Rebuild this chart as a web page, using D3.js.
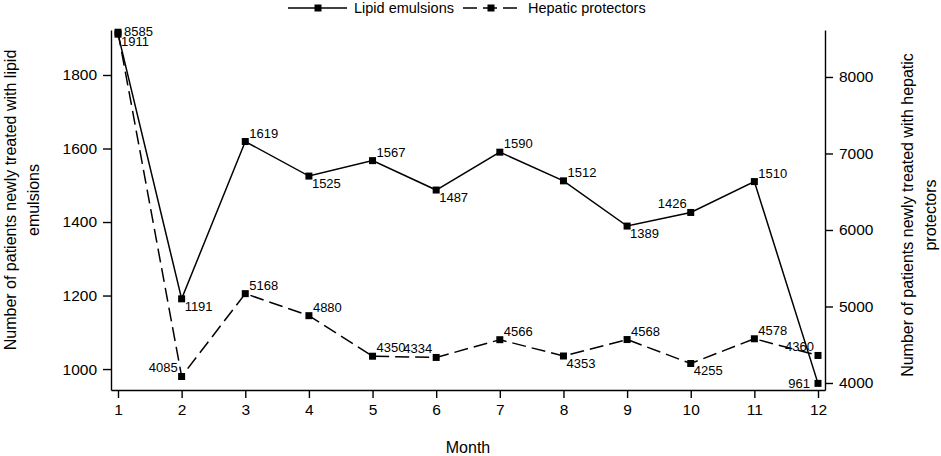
<!DOCTYPE html>
<html>
<head>
<meta charset="utf-8">
<script src="https://cdn.jsdelivr.net/npm/d3@7"></script>
<style>
  body { margin: 0; background: #fff; }
  svg text { font-family: "Liberation Sans", Arial, sans-serif; fill: #000; }
</style>
</head>
<body>
<div id="chart"></div>
<script>
// data
var months   = [1, 2, 3, 4, 5, 6, 7, 8, 9, 10, 11, 12];
var lipid    = [1911, 1191, 1619, 1525, 1567, 1487, 1590, 1512, 1389, 1426, 1510, 961];
var hepatic  = [8585, 4085, 5168, 4880, 4350, 4334, 4566, 4353, 4568, 4255, 4578, 4360];
var leftTicks  = [1000, 1200, 1400, 1600, 1800];
var rightTicks = [4000, 5000, 6000, 7000, 8000];
// where each value label sits relative to its marker
var lipidLabelPos   = ["lr", "lr", "ur", "lr", "ur", "lr", "ur", "ur", "lr", "ul", "ur", "l"];
var hepaticLabelPos = ["r", "ul", "ur", "ur", "ur", "ul", "ur", "lr", "ur", "lr", "ur", "ul"];

var width = 941, height = 456;
var plot = { left: 111, right: 825, top: 30, bottom: 390 };

var svg = d3.select('#chart')
    .append('svg')
        .attr('width', width)
        .attr('height', height);

var xScale = d3.scaleLinear()
    .domain([0.89, 12.11])
    .range([plot.left, plot.right]);

var yLeft = d3.scaleLinear()
    .domain([943, 1922.4])
    .range([plot.bottom, plot.top]);

var yRight = d3.scaleLinear()
    .domain([3908.5, 8614])
    .range([plot.bottom, plot.top]);

// axes
var xAxis = d3.axisBottom(xScale).tickValues(months).tickFormat(d3.format('d'))
    .tickSize(8).tickPadding(6).tickSizeOuter(0);
svg.append('g')
    .attr('class', 'x axis')
    .attr('transform', 'translate(0,' + plot.bottom + ')')
    .call(xAxis);

var leftAxis = d3.axisLeft(yLeft).tickValues(leftTicks).tickFormat(d3.format('d'))
    .tickSize(8).tickPadding(6).tickSizeOuter(0);
svg.append('g')
    .attr('class', 'y axis')
    .attr('transform', 'translate(' + plot.left + ',0)')
    .call(leftAxis);

var rightAxis = d3.axisRight(yRight).tickValues(rightTicks).tickFormat(d3.format('d'))
    .tickSize(8).tickPadding(6).tickSizeOuter(0);
svg.append('g')
    .attr('class', 'y axis')
    .attr('transform', 'translate(' + plot.right + ',0)')
    .call(rightAxis);

svg.selectAll('.axis path, .axis line')
    .attr('stroke', '#000')
    .attr('stroke-width', 1.4);
svg.selectAll('.axis text')
    .style('font-size', '15.5px')
    .style('font-family', '"Liberation Sans", Arial, sans-serif');

// axis titles
svg.append('text')
    .attr('x', (plot.left + plot.right) / 2)
    .attr('y', 453)
    .attr('text-anchor', 'middle')
    .style('font-size', '16px')
    .text('Month');

var leftTitle = svg.append('text')
    .attr('transform', 'translate(16,200) rotate(-90)')
    .attr('text-anchor', 'middle')
    .style('font-size', '16px');
leftTitle.append('tspan').attr('x', 0).attr('y', 0).text('Number of patients newly treated with lipid');
leftTitle.append('tspan').attr('x', 0).attr('y', 23).text('emulsions');

var rightTitle = svg.append('text')
    .attr('transform', 'translate(913,215) rotate(-90)')
    .attr('text-anchor', 'middle')
    .style('font-size', '16px');
rightTitle.append('tspan').attr('x', 0).attr('y', 0).text('Number of patients newly treated with hepatic');
rightTitle.append('tspan').attr('x', 0).attr('y', 23).text('protectors');

// series
var mSize = 7;
var dash = '14,6';

function drawSeries(values, yScale, dashed, labelPos) {
    var pts = months.map(function(m, i) { return { x: m, y: values[i], pos: labelPos[i] }; });

    svg.append('path')
        .datum(pts)
        .attr('fill', 'none')
        .attr('stroke', '#000')
        .attr('stroke-width', 1.5)
        .attr('stroke-dasharray', dashed ? dash : null)
        .attr('d', d3.line()
            .x(function(d) { return xScale(d.x); })
            .y(function(d) { return yScale(d.y); }));

    svg.selectAll(null)
        .data(pts)
        .enter()
        .append('rect')
        .attr('x', function(d) { return xScale(d.x) - mSize / 2; })
        .attr('y', function(d) { return yScale(d.y) - mSize / 2; })
        .attr('width', mSize)
        .attr('height', mSize)
        .attr('fill', '#000');

    var offs = {
        ur: { dx: 4,  dy: -4, anchor: 'start' },
        lr: { dx: 3,  dy: 12, anchor: 'start' },
        ul: { dx: -4, dy: -4, anchor: 'end' },
        l:  { dx: -8, dy: 5,  anchor: 'end' },
        r:  { dx: 6,  dy: 4,  anchor: 'start' }
    };

    svg.selectAll(null)
        .data(pts)
        .enter()
        .append('text')
        .attr('x', function(d) { return xScale(d.x) + offs[d.pos].dx; })
        .attr('y', function(d) { return yScale(d.y) + offs[d.pos].dy; })
        .attr('text-anchor', function(d) { return offs[d.pos].anchor; })
        .style('font-size', '13px')
        .text(function(d) { return d.y; });
}

drawSeries(lipid, yLeft, false, lipidLabelPos);
drawSeries(hepatic, yRight, true, hepaticLabelPos);

// legend
var legend = svg.append('g').attr('class', 'legend');
legend.append('line')
    .attr('x1', 288).attr('x2', 347).attr('y1', 8).attr('y2', 8)
    .attr('stroke', '#000').attr('stroke-width', 1.5);
legend.append('rect')
    .attr('x', 318 - mSize / 2).attr('y', 8 - mSize / 2)
    .attr('width', mSize).attr('height', mSize).attr('fill', '#000');
legend.append('text')
    .attr('x', 354).attr('y', 13)
    .style('font-size', '14.5px')
    .text('Lipid emulsions');

legend.append('line')
    .attr('x1', 463).attr('x2', 518).attr('y1', 8).attr('y2', 8)
    .attr('stroke', '#000').attr('stroke-width', 1.5)
    .attr('stroke-dasharray', dash);
legend.append('rect')
    .attr('x', 491 - mSize / 2).attr('y', 8 - mSize / 2)
    .attr('width', mSize).attr('height', mSize).attr('fill', '#000');
legend.append('text')
    .attr('x', 528).attr('y', 13)
    .style('font-size', '14.5px')
    .text('Hepatic protectors');
</script>
</body>
</html>
